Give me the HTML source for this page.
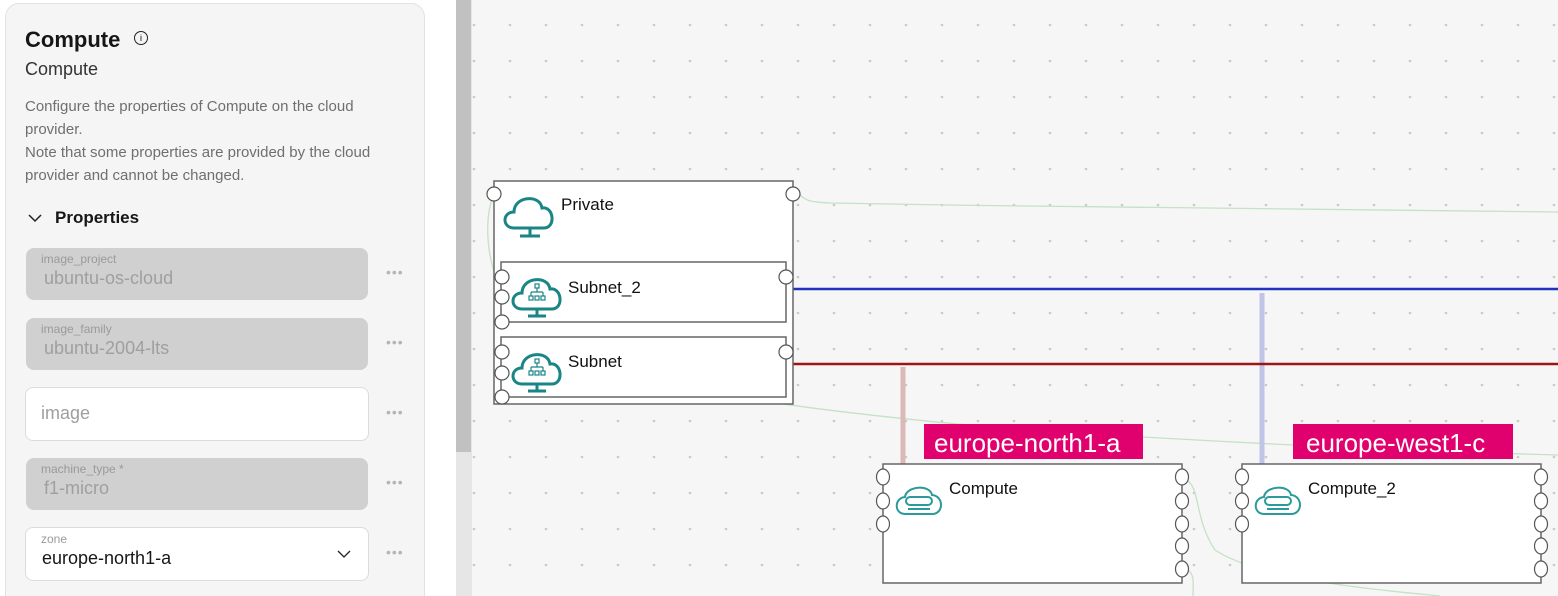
<!DOCTYPE html>
<html><head><meta charset="utf-8"><style>
html,body{margin:0;padding:0;width:1558px;height:596px;overflow:hidden;background:#fff;font-family:"Liberation Sans",sans-serif;position:relative;}
.panel{position:absolute;left:5px;top:3px;width:418px;height:610px;background:#f5f5f5;border:1px solid #e2e2e2;border-radius:14px;}
.t{position:absolute;white-space:nowrap;}
.f{position:absolute;left:26px;width:342px;height:52px;border-radius:8px;background:#d0d0d1;}
.f.w{background:#fff;border:1px solid #dcdcdc;width:342px;height:52px;left:25px;}
.lab{position:absolute;left:15px;top:4px;font-size:12px;color:#9a9a9a;}
.val{position:absolute;left:18px;top:20px;font-size:18px;color:#9f9f9f;}
.dots{position:absolute;left:386px;font-size:14px;color:#b5b5b5;letter-spacing:1px;}
</style></head><body>
<div class="panel"></div>
<div class="t" style="left:25px;top:27px;font-size:22px;font-weight:bold;color:#161616;">Compute</div>
<div class="t" style="left:134px;top:31px;width:12px;height:12px;border:1.5px solid #222;border-radius:50%;font-size:9px;line-height:12px;text-align:center;">i</div>
<div class="t" style="left:25px;top:59px;font-size:18px;color:#333;">Compute</div>
<div class="t" style="left:25px;top:95px;font-size:15px;color:#6f6f6f;line-height:23px;">Configure the properties of Compute on the cloud<br>provider.<br>Note that some properties are provided by the cloud<br>provider and cannot be changed.</div>
<svg class="t" style="left:27px;top:212px" width="16" height="12"><path d="M2 3 L8 9 L14 3" fill="none" stroke="#222" stroke-width="1.5"/></svg>
<div class="t" style="left:55px;top:208px;font-size:17px;font-weight:bold;color:#161616;">Properties</div>

<div class="f" style="top:248px"><div class="lab">image_project</div><div class="val">ubuntu-os-cloud</div></div>
<div class="dots" style="top:264px">•••</div>
<div class="f" style="top:318px"><div class="lab">image_family</div><div class="val">ubuntu-2004-lts</div></div>
<div class="dots" style="top:334px">•••</div>
<div class="f w" style="top:387px"><div class="val" style="left:15px;top:15px;">image</div></div>
<div class="dots" style="top:404px">•••</div>
<div class="f" style="top:458px"><div class="lab">machine_type *</div><div class="val">f1-micro</div></div>
<div class="dots" style="top:474px">•••</div>
<div class="f w" style="top:527px"><div class="lab">zone</div><div class="val" style="left:16px;color:#161616;">europe-north1-a</div>
<svg style="position:absolute;left:310px;top:20px" width="16" height="12"><path d="M2 3 L8 9 L14 3" fill="none" stroke="#222" stroke-width="1.3"/></svg></div>
<div class="dots" style="top:544px">•••</div>

<div class="t" style="left:456px;top:0;width:16px;height:596px;background:#e6e6e6;"></div>
<div class="t" style="left:456px;top:0;width:15px;height:452px;background:#c1c1c1;"></div>

<svg class="t" style="left:472px;top:0" width="1086" height="596" viewBox="472 0 1086 596">
<defs><pattern id="d" x="472" y="23" width="36" height="36" patternUnits="userSpaceOnUse"><circle cx="2" cy="2" r="1.3" fill="#c9c9c9"/></pattern></defs>
<rect x="472" y="0" width="1086" height="596" fill="#f6f6f6"/>
<rect x="472" y="0" width="1086" height="596" fill="url(#d)"/>
<g fill="none" stroke="#c4e2c4" stroke-width="1.3">
<path d="M799 194 C805 200 808 202 830 203 C1100 208 1400 210 1558 212"/>
<path d="M494 194 C478 230 490 320 560 350 C650 390 800 410 1000 428 C1250 445 1450 452 1558 455"/>
<path d="M1188 481 C1200 490 1195 520 1215 550 C1260 580 1380 590 1440 596"/>
<path d="M1188 570 C1195 575 1193 585 1193 596"/>
</g>
<line x1="903" y1="367" x2="903" y2="464" stroke="#dcb8b8" stroke-width="5"/>
<line x1="1262" y1="293" x2="1262" y2="464" stroke="#c0c4e6" stroke-width="5"/>
<line x1="792" y1="289" x2="1558" y2="289" stroke="#2233bb" stroke-width="2.5"/>
<line x1="792" y1="364" x2="1558" y2="364" stroke="#a01414" stroke-width="2.5"/>
<g stroke="#666" stroke-width="1.5" fill="#fff">
<rect x="494" y="181" width="299" height="223"/>
<rect x="501" y="262" width="285" height="60"/>
<rect x="501" y="337" width="285" height="60"/>
<rect x="883" y="464" width="299" height="119"/>
<rect x="1242" y="464" width="299" height="119"/>
<g stroke="#555" stroke-width="1.2">
<circle cx="494" cy="194" r="7"/><circle cx="793" cy="194" r="7"/>
<circle cx="502" cy="277" r="7"/><circle cx="502" cy="297" r="7"/><circle cx="502" cy="322" r="7"/><circle cx="786" cy="277" r="7"/>
<circle cx="502" cy="352" r="7"/><circle cx="502" cy="373" r="7"/><circle cx="502" cy="397" r="7"/><circle cx="786" cy="352" r="7"/>
<ellipse cx="883" cy="477" rx="6.5" ry="8"/><ellipse cx="883" cy="501" rx="6.5" ry="8"/><ellipse cx="883" cy="524" rx="6.5" ry="8"/>
<ellipse cx="1182" cy="477" rx="6.5" ry="8"/><ellipse cx="1182" cy="501" rx="6.5" ry="8"/><ellipse cx="1182" cy="524" rx="6.5" ry="8"/><ellipse cx="1182" cy="546" rx="6.5" ry="8"/><ellipse cx="1182" cy="569" rx="6.5" ry="8"/>
<ellipse cx="1242" cy="477" rx="6.5" ry="8"/><ellipse cx="1242" cy="501" rx="6.5" ry="8"/><ellipse cx="1242" cy="524" rx="6.5" ry="8"/>
<ellipse cx="1541" cy="477" rx="6.5" ry="8"/><ellipse cx="1541" cy="501" rx="6.5" ry="8"/><ellipse cx="1541" cy="524" rx="6.5" ry="8"/><ellipse cx="1541" cy="546" rx="6.5" ry="8"/><ellipse cx="1541" cy="569" rx="6.5" ry="8"/>
</g></g>
<g fill="none" stroke="#1a8585" stroke-width="3">
<path d="M514 228 C502 228 502 212 514 212 C514 196 540 194 542 208 C554 206 556 228 544 228 Z"/>
<line x1="530" y1="228" x2="530" y2="235"/><line x1="520" y1="236" x2="540" y2="236"/>
<path d="M522 309 C510 309 510 293 522 293 C522 277 548 275 550 289 C562 287 564 309 552 309 Z"/>
<line x1="537" y1="309" x2="537" y2="315"/><line x1="528" y1="316" x2="546" y2="316"/>
<path d="M522 384 C510 384 510 368 522 368 C522 352 548 350 550 364 C562 362 564 384 552 384 Z"/>
<line x1="537" y1="384" x2="537" y2="390"/><line x1="528" y1="391" x2="546" y2="391"/>
</g>
<g fill="none" stroke="#1a8585" stroke-width="1.2">
<rect x="535" y="284" width="4" height="4"/><rect x="529" y="296" width="4" height="4"/><rect x="535" y="296" width="4" height="4"/><rect x="541" y="296" width="4" height="4"/><path d="M537 288v4M531 292h12M531 292v4M543 292v4"/>
<rect x="535" y="359" width="4" height="4"/><rect x="529" y="371" width="4" height="4"/><rect x="535" y="371" width="4" height="4"/><rect x="541" y="371" width="4" height="4"/><path d="M537 363v4M531 367h12M531 367v4M543 367v4"/>
</g>
<g fill="none" stroke="#2a9a9a" stroke-width="2">
<path d="M905 514 C894 514 894 498 905 497 C906 486 930 484 932 495 C944 496 944 514 932 514 Z"/>
<rect x="906" y="497" width="26" height="8" rx="4"/><line x1="908" y1="509" x2="930" y2="509"/>
<path d="M1264 514 C1253 514 1253 498 1264 497 C1265 486 1289 484 1291 495 C1303 496 1303 514 1291 514 Z"/>
<rect x="1265" y="497" width="26" height="8" rx="4"/><line x1="1267" y1="509" x2="1289" y2="509"/>
</g>
<rect x="924" y="424" width="219" height="35" fill="#e0006e"/>
<rect x="1293" y="424" width="220" height="35" fill="#e0006e"/>
<g font-family="Liberation Sans, sans-serif">
<text x="934" y="452" font-size="26" fill="#fff">europe-north1-a</text>
<text x="1306" y="452" font-size="26" fill="#fff">europe-west1-c</text>
<text x="561" y="210" font-size="17" fill="#111">Private</text>
<text x="568" y="293" font-size="17" fill="#111">Subnet_2</text>
<text x="568" y="367" font-size="17" fill="#111">Subnet</text>
<text x="949" y="494" font-size="17" fill="#111">Compute</text>
<text x="1308" y="494" font-size="17" fill="#111">Compute_2</text>
</g>
</svg>
</body></html>
